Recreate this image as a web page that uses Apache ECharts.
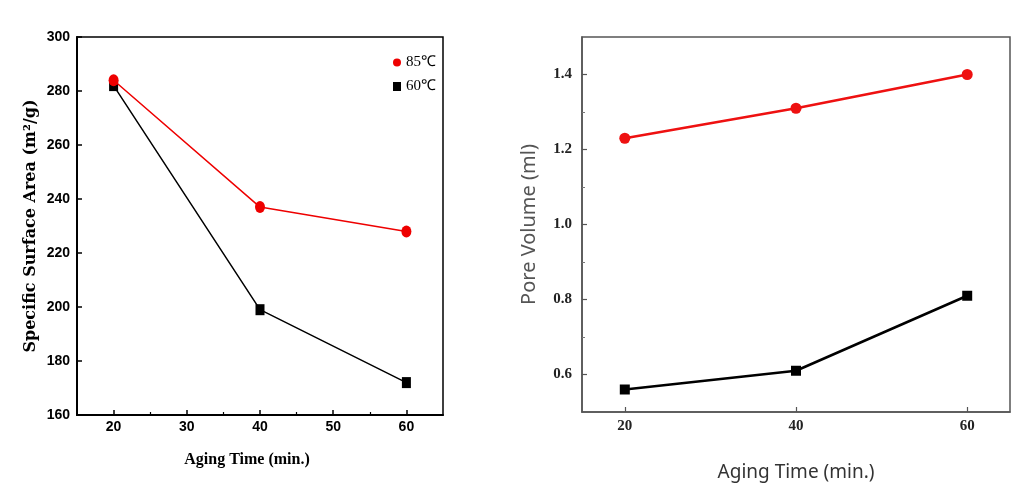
<!DOCTYPE html>
<html>
<head>
<meta charset="utf-8">
<script src="https://cdn.jsdelivr.net/npm/echarts@6/dist/echarts.min.js"></script>
<style>
html,body{margin:0;padding:0;background:#fff;}
#c{width:1023px;height:493px;}
</style>
</head>
<body>
<div id="c"></div>
<script>
// ---- data ----
const agingTime = [20, 40, 60];
const legendNames = ['85℃', '60℃'];
const surface85 = [284, 237, 228];
const surface60 = [282, 199, 172];
const pore85 = [1.23, 1.31, 1.40];
const pore60 = [0.56, 0.61, 0.81];
const leftXTicks = [20, 30, 40, 50, 60];
const leftXMinor = [25, 35, 45, 55];
const rightXTicks = [20, 40, 60];
const rightYTicks = [0.6, 0.8, 1.0, 1.2, 1.4];
const rightYMinor = [0.7, 0.9, 1.1, 1.3];

const pairs = (xs, ys) => xs.map((x, i) => [x, ys[i]]);

const chart = echarts.init(document.getElementById('c'), null, {renderer: 'canvas'});

const serifBold = {fontFamily: 'Liberation Serif', fontWeight: 'bold'};
const narrowBold = {fontFamily: '"Liberation Sans Narrow", "Liberation Sans"', fontWeight: 'bold'};

const option = {
  animation: false,
  backgroundColor: '#fff',
  grid: [
    {left: 77, top: 37, width: 366, height: 378, show: true, borderColor: '#000', borderWidth: 1.5, backgroundColor: 'transparent'},
    {left: 582, top: 37, width: 428, height: 375, show: true, borderColor: '#555', borderWidth: 1.5, backgroundColor: 'transparent'}
  ],
  legend: {
    orient: 'vertical',
    left: 388,
    top: 50,
    itemWidth: 8,
    itemHeight: 9,
    itemGap: 9,
    textStyle: {fontFamily: 'Liberation Serif', fontSize: 15, color: '#000'},
    data: [
      {name: legendNames[0], icon: 'circle'},
      {name: legendNames[1], icon: 'rect'}
    ]
  },
  xAxis: [
    {
      gridIndex: 0, type: 'value', min: 15, max: 65, position: 'bottom',
      name: 'Aging Time (min.)', nameLocation: 'middle', nameGap: 37,
      nameTextStyle: Object.assign({fontSize: 16, color: '#000', padding: [0, 26, 0, 0]}, serifBold),
      axisLine: {lineStyle: {color: '#000', width: 2}},
      axisTick: {inside: true, length: 5, customValues: leftXTicks, lineStyle: {color: '#000', width: 1.5}},
      axisLabel: Object.assign({customValues: leftXTicks, margin: 5, fontSize: 14, color: '#000'}, narrowBold),
      splitLine: {show: false}
    },
    {
      gridIndex: 0, type: 'value', min: 15, max: 65, position: 'bottom', offset: 0,
      axisLine: {show: false},
      axisTick: {inside: true, length: 3, customValues: leftXMinor, lineStyle: {color: '#000', width: 1.2}},
      axisLabel: {show: false},
      splitLine: {show: false}
    },
    {
      gridIndex: 1, type: 'value', min: 15, max: 65, position: 'bottom',
      name: 'Aging Time (min.)', nameLocation: 'middle', nameGap: 51,
      nameTextStyle: {fontFamily: 'Noto Sans', fontSize: 19, color: '#333'},
      axisLine: {lineStyle: {color: '#555', width: 1.5}},
      axisTick: {inside: true, length: 5, customValues: rightXTicks, lineStyle: {color: '#555', width: 1.2}},
      axisLabel: Object.assign({customValues: rightXTicks, margin: 7, fontSize: 15, color: '#222'}, serifBold),
      splitLine: {show: false}
    }
  ],
  yAxis: [
    {
      gridIndex: 0, type: 'value', min: 160, max: 300, interval: 20, position: 'left',
      name: 'Specific Surface Area (m²/g)', nameLocation: 'middle', nameGap: 38, nameRotate: 90,
      nameTextStyle: {fontFamily: 'DejaVu Serif', fontWeight: 'bold', fontSize: 16, color: '#000'},
      axisLine: {lineStyle: {color: '#000', width: 2}},
      axisTick: {inside: true, length: 5, lineStyle: {color: '#000', width: 1.5}},
      axisLabel: Object.assign({margin: 7, fontSize: 14, color: '#000'}, narrowBold),
      splitLine: {show: false}
    },
    {
      gridIndex: 1, type: 'value', min: 0.5, max: 1.5, position: 'left',
      name: 'Pore Volume (ml)', nameLocation: 'middle', nameGap: 43, nameRotate: 90,
      nameTextStyle: {fontFamily: 'Noto Sans', fontSize: 20, color: '#555'},
      axisLine: {lineStyle: {color: '#555', width: 1.5}},
      axisTick: {inside: true, length: 5, customValues: rightYTicks, lineStyle: {color: '#555', width: 1.2}},
      axisLabel: Object.assign({customValues: rightYTicks, margin: 10, fontSize: 15, color: '#222',
        formatter: v => Number(v).toFixed(1)}, serifBold),
      splitLine: {show: false}
    },
    {
      gridIndex: 1, type: 'value', min: 0.5, max: 1.5, position: 'left', offset: 0,
      axisLine: {show: false},
      axisTick: {inside: true, length: 3, customValues: rightYMinor, lineStyle: {color: '#777', width: 1}},
      axisLabel: {show: false},
      splitLine: {show: false}
    }
  ],
  series: [
    {
      name: legendNames[1], type: 'line', xAxisIndex: 0, yAxisIndex: 0,
      data: pairs(agingTime, surface60),
      symbol: 'rect', symbolSize: [9, 11],
      itemStyle: {color: '#000'}, lineStyle: {color: '#000', width: 1.5}, z: 2
    },
    {
      name: legendNames[0], type: 'line', xAxisIndex: 0, yAxisIndex: 0,
      data: pairs(agingTime, surface85),
      symbol: 'circle', symbolSize: [10, 12],
      itemStyle: {color: '#ee0000'}, lineStyle: {color: '#ee0000', width: 1.5}, z: 3
    },
    {
      name: legendNames[1], type: 'line', xAxisIndex: 2, yAxisIndex: 1,
      data: pairs(agingTime, pore60),
      symbol: 'rect', symbolSize: 10,
      itemStyle: {color: '#000'}, lineStyle: {color: '#000', width: 2.5}, z: 2
    },
    {
      name: legendNames[0], type: 'line', xAxisIndex: 2, yAxisIndex: 1,
      data: pairs(agingTime, pore85),
      symbol: 'circle', symbolSize: 11,
      itemStyle: {color: '#ee1111'}, lineStyle: {color: '#ee1111', width: 2.5}, z: 3
    }
  ]
};
chart.setOption(option);
</script>
</body>
</html>
